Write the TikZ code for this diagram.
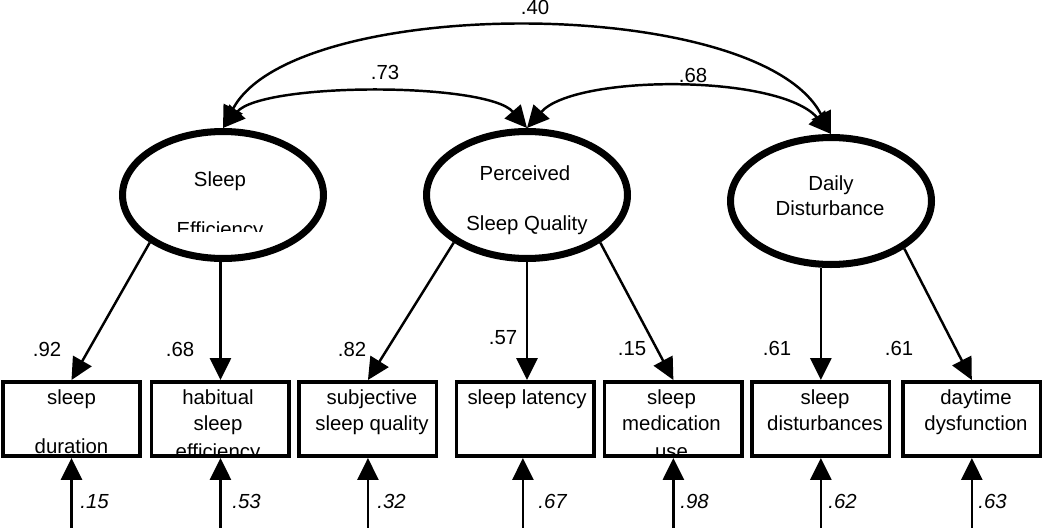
\documentclass[tikz,border=0pt]{standalone}
\usepackage{fontspec}
\setmainfont{Liberation Sans}
\usetikzlibrary{shapes.geometric,arrows.meta,positioning}

\begin{document}
\begin{tikzpicture}[x=0.02cm, y=-0.02cm, node distance=3cm, on grid,
        font=\fontsize{11.6}{13}\selectfont,
        >={Triangle[length=12.5pt,width=12pt]},
        latent/.style={ellipse, draw, line width=4pt, minimum width=4.02cm, minimum height=2.54cm, inner sep=0pt},
        obs/.style={rectangle, draw, line width=2pt, minimum width=2.75cm, minimum height=1.49cm, inner sep=0pt},
        txt/.style={anchor=base, inner sep=0pt},
        err/.style={anchor=base west, inner sep=0pt, font=\fontsize{11.6}{13}\selectfont\itshape},
        conn/.style={->, line width=1.4pt},
        cov/.style={<->, line width=1.4pt}]
    \useasboundingbox (0,0) rectangle (1050,527);

    % latent factors
    \node[latent] (e1) at (223,195) {};
    \node[latent] (e2) at (527,195) {};
    \node[latent] (e3) at (831,201) {};

    \node[txt] (e1a) at (220,186) {Sleep};
    \begin{scope}
        \clip (100,150) rectangle (340,231.5);
        \node[txt] (e1b) at (220,236) {Efficiency};
    \end{scope}
    \node[txt] (e2a) at (525,180) {Perceived};
    \node[txt] (e2b) at (527,230) {Sleep Quality};
    \node[txt] (e3a) at (831,190) {Daily};
    \node[txt] (e3b) at (830,215) {Disturbance};

    % indicators
    \node[obs] (b1) at (71.5,419) {};
    \node[obs] (b2) [right=2.98cm of b1] {};
    \node[obs] (b3) [right=2.95cm of b2] {};
    \node[obs] (b4) [right=3.15cm of b3] {};
    \node[obs] (b5) [right=2.96cm of b4] {};
    \node[obs] (b6) [right=2.95cm of b5] {};
    \node[obs] (b7) [right=3.02cm of b6] {};

    \node[txt] (b1a) at (71.5,404) {sleep};
    \node[txt] (b1b) at (71.5,453) {duration};
    \node[txt] (b2a) at (218,404) {habitual};
    \node[txt] (b2b) at (218,430) {sleep};
    \node[txt] (b3a) at (372,404) {subjective};
    \node[txt] (b3b) at (372,430) {sleep quality};
    \node[txt] (b4a) at (527,404) {sleep latency};
    \node[txt] (b5a) at (671.5,404) {sleep};
    \node[txt] (b5b) at (671.5,430) {medication};
    \node[txt] (b6a) at (825,404) {sleep};
    \node[txt] (b6b) at (825,430) {disturbances};
    \node[txt] (b7a) at (976,404) {daytime};
    \node[txt] (b7b) at (976,430) {dysfunction};
    \begin{scope}
        \clip (0,380) rectangle (1050,456);
        \node[txt] (b2c) at (218,458) {efficiency};
        \node[txt] (b5c) at (671.5,458) {use};
    \end{scope}

    % correlations
    \draw[cov] (e1.north) .. controls (293,-6) and (760,-6) .. (e3.north);
    \draw[cov] (e1.north) .. controls (263,82) and (487,82) .. (e2.north);
    \draw[cov] (e2.north) .. controls (575,74) and (780,74) .. (e3.north);
    \node[txt] (c13) at (535,15) {.40};
    \node[txt] (c12) at (385,80) {.73};
    \node[txt] (c23) at (693,83) {.68};

    % loadings
    \draw[conn] (e1.213) -- (b1.north);
    \draw[conn] (b2.north |- e1.south) -- (b2.north);
    \draw[conn] (e2.213) -- (b3.north);
    \draw[conn] (e2.south) -- (e2.south |- b4.north);
    \draw[conn] (e2.327) -- (b5.north);
    \draw[conn] (b6.north |- e3.south) -- (b6.north);
    \draw[conn] (e3.327) -- (b7.north);
    \node[txt] (l1) at (47,356) {.92};
    \node[txt] (l2) at (180,356) {.68};
    \node[txt] (l3) at (352,356) {.82};
    \node[txt] (l4) at (503,344) {.57};
    \node[txt] (l5) at (632,355) {.15};
    \node[txt] (l6) at (777,355) {.61};
    \node[txt] (l7) at (899,355) {.61};

    % error terms
    \path (b1.south) ++(0,71) coordinate (u1);
    \path (b2.south) ++(0,71) coordinate (u2);
    \path (b3.south) ++(0,71) coordinate (u3);
    \path (b4.south) ++(-2.5,71) coordinate (u4);
    \path (b5.south) ++(0,71) coordinate (u5);
    \path (b6.south) ++(0,71) coordinate (u6);
    \path (b7.south) ++(0,71) coordinate (u7);
    \draw[conn] (u1) -- (b1.south);
    \draw[conn] (u2) -- (b2.south);
    \draw[conn] (u3) -- (b3.south);
    \draw[conn] (u4) -- (u4 |- b4.south);
    \draw[conn] (u5) -- (b5.south);
    \draw[conn] (u6) -- (b6.south);
    \draw[conn] (u7) -- (b7.south);
    \node[err] (r1) at (80,508) {.15};
    \node[err] (r2) at (232,508) {.53};
    \node[err] (r3) at (377,508) {.32};
    \node[err] (r4) at (538,508) {.67};
    \node[err] (r5) at (680,508) {.98};
    \node[err] (r6) at (828,508) {.62};
    \node[err] (r7) at (978,508) {.63};
\end{tikzpicture}
\end{document}
